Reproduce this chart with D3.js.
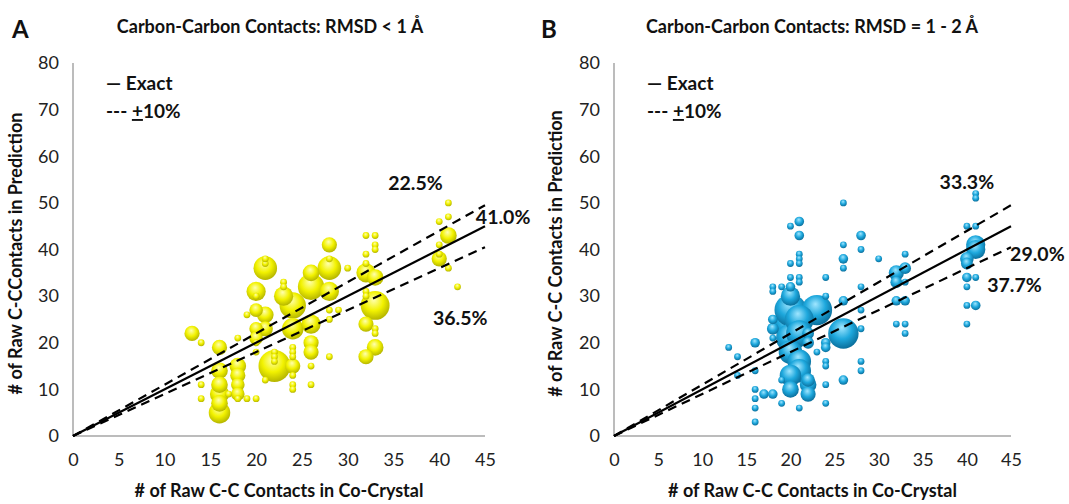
<!DOCTYPE html>
<html><head><meta charset="utf-8">
<script src="https://cdn.jsdelivr.net/npm/d3@7"></script>
<style>
body{margin:0;background:#fff;}
svg text{font-family:Lato,"Open Sans",sans-serif;}
</style></head>
<body><svg id="c" width="1069" height="504"></svg>
<script>
// ---------- data ----------
const xTicks = [0,5,10,15,20,25,30,35,40,45];
const yTicks = [0,10,20,30,40,50,60,70,80];

// Panel A: RMSD < 1 Å  (x = co-crystal contacts, y = prediction contacts, size = bubble size)
const aX = [13,14,16,16,16,16,16,16,14,14,17,18,18,18,18,18,18,19,20,19,20,20,20,20,20,20,20,21,21,21,21,21,22,22,22,22,21,23,23,23,24,24,24,24,24,24,24,24,24,26,26,26,26,26,26,26,28,28,28,28,28,28,28,29,30,32,33,33,33,32,32,32,33,33,32,32,32,33,33,33,32,40,41,41,41,40,40,40,41,42];
const aY = [22,20,19,14,11,9,7,5,11,8,9,21,15,13,11,9,8,8,8,26,31,30,23,21,20,18,27,26,36,37,38,23,15,18,17,16,12,33,32,30,28,23,15,19,18,17,13,11,10,35,32,24,20,18,15,11,41,38,36,31,27,25,17,27,36,43,43,41,40,39,37,35,34,28,31,30,24,23,22,19,17,38,43,50,47,46,41,39,36,32];
const aSize = [5,1,5,6,6,8,6,10,1,1,1,1,6,5,4,4,1,1,1,1,8,1,4,4,1,1,4,6,12,1,1,5,22,1,1,1,1,1,1,8,15,10,5,1,1,1,1,1,1,6,15,8,5,5,1,1,5,1,12,8,1,1,1,1,1,1,1,1,1,1,1,8,6,18,1,1,5,1,1,6,5,5,6,1,1,1,1,1,1,1];

// Panel B: RMSD = 1 - 2 Å
const bX = [13,14,14,16,16,16,16,16,16,17,18,19,19,21,22,22,24,24,26,24,24,28,28,21,20,21,26,26,26,26,28,28,21,21,21,20,20,21,21,18,18,19,20,24,24,26,20,20,20,20,21,21,20,21,21,20,22,20,23,26,28,28,18,18,18,22,22,24,24,23,30,33,32,33,32,33,28,32,33,32,33,33,41,41,40,41,41,41,40,40,40,40,41,41,40,40];
const bY = [19,17,13,20,14,10,8,6,3,9,9,7,12,6,9,12,11,7,12,16,15,16,14,46,45,43,50,41,38,36,43,40,39,38,37,37,34,34,33,32,31,32,32,34,30,29,30,27,24,21,25,22,18,16,14,13,11,10,27,22,23,27,23,21,25,22,20,20,19,18,38,39,35,36,33,33,32,29,29,24,24,22,52,51,45,45,41,40,38,37,34,32,34,28,28,24];
const bSize = [1,1,1,2,1,1,1,1,1,2,2,1,1,1,5,4,1,1,2,1,1,1,1,2,1,2,1,1,2,1,2,1,1,1,1,1,1,1,1,1,1,1,2,1,1,2,8,22,25,18,18,15,12,12,12,10,6,6,20,20,1,1,3,1,2,3,3,2,2,1,1,1,5,3,3,1,1,2,2,1,1,1,1,1,1,1,8,8,4,3,2,1,1,2,1,1];

const panels = [
  {letter:"A", title:"Carbon-Carbon Contacts: RMSD < 1 Å", yTitle:"# of Raw C-CContacts in Prediction",
   xs:aX, ys:aY, ss:aSize, left:73, right:485, letterX:12, titleCx:270, yTitleX:22,
   palette:["#ffffb0","#f2f200","#b5b500"],
   labels:[{t:"22.5%",x:37.4,y:54.3,a:"middle"},{t:"41.0%",x:44.0,y:47,a:"start"},{t:"36.5%",x:42.3,y:25.3,a:"middle"}]},
  {letter:"B", title:"Carbon-Carbon Contacts: RMSD = 1 - 2 Å", yTitle:"# of Raw C-C Contacts in Prediction",
   xs:bX, ys:bY, ss:bSize, left:614, right:1011, letterX:541, titleCx:812, yTitleX:562,
   palette:["#a0e6ff","#1ea8dd","#0b6f9c"],
   labels:[{t:"33.3%",x:40,y:54.5,a:"middle"},{t:"29.0%",x:44.9,y:39,a:"start"},{t:"37.7%",x:42.3,y:32.4,a:"start"}]}
];

const svg = d3.select("#c");
const defs = svg.append("defs");
const plotTop = 63, plotBottom = 436;
const r = d3.scaleSqrt().domain([0,25]).range([0,17]);

panels.forEach((p,pi)=>{
  const x = d3.scaleLinear().domain([0,45]).range([p.left,p.right]);
  const y = d3.scaleLinear().domain([0,80]).range([plotBottom,plotTop]);
  const gid = "grad"+pi;
  const g = defs.append("radialGradient").attr("id",gid).attr("cx","45%").attr("cy","40%").attr("r","60%").attr("fx","45%").attr("fy","30%");
  g.append("stop").attr("offset","0%").attr("stop-color",p.palette[0]);
  g.append("stop").attr("offset","55%").attr("stop-color",p.palette[1]);
  g.append("stop").attr("offset","100%").attr("stop-color",p.palette[2]);

  const G = svg.append("g");
  // axes
  G.append("line").attr("x1",x(0)).attr("x2",x(0)).attr("y1",y(80)).attr("y2",y(0)).attr("stroke","#a6a6a6").attr("stroke-width",1.5);
  G.append("line").attr("x1",x(0)).attr("x2",x(45)).attr("y1",y(0)).attr("y2",y(0)).attr("stroke","#a6a6a6").attr("stroke-width",1.5);
  const xa = d3.axisBottom(x).tickValues(xTicks).tickSize(0).tickPadding(17);
  G.append("g").attr("transform",`translate(0,${plotBottom})`).call(xa).call(s=>{s.select(".domain").remove(); s.selectAll("text").attr("font-size",18).attr("fill","#222").attr("font-family","Lato");});
  const ya = d3.axisLeft(y).tickValues(yTicks).tickSize(0).tickPadding(14);
  G.append("g").attr("transform",`translate(${p.left},0)`).call(ya).call(s=>{s.select(".domain").remove(); s.selectAll("text").attr("font-size",18).attr("fill","#222").attr("font-family","Lato");});

  // bubbles
  const data = p.xs.map((v,i)=>({x:v,y:p.ys[i],s:p.ss[i]})).sort((a,b)=>b.s-a.s);
  G.selectAll("circle.b").data(data).enter().append("circle").attr("class","b")
    .attr("cx",d=>x(d.x)).attr("cy",d=>y(d.y)).attr("r",d=>r(d.s)).attr("fill",`url(#${gid})`);

  // reference lines
  const line = d3.line().x(d=>x(d[0])).y(d=>y(d[1]));
  G.append("path").attr("d",line([[0,0],[45,45]])).attr("stroke","#000").attr("stroke-width",2.2).attr("fill","none");
  [1.1,0.9].forEach(k=>{
    G.append("path").attr("d",line([[0,0],[45,45*k]])).attr("stroke","#000").attr("stroke-width",2.2).attr("stroke-dasharray","9,6").attr("fill","none");
  });

  // legend
  G.append("text").attr("x",p.left+33).attr("y",90).attr("font-size",19).attr("font-weight","bold").attr("fill","#111").text("— Exact");
  const t2 = G.append("text").attr("x",p.left+33).attr("y",118).attr("font-size",19).attr("font-weight","bold").attr("fill","#111");
  t2.append("tspan").text("--- ");
  t2.append("tspan").attr("text-decoration","underline").style("text-decoration","underline").text("+");
  t2.append("tspan").text("10%");

  // percent labels
  p.labels.forEach(l=>{
    G.append("text").attr("x",x(l.x)).attr("y",y(l.y)).attr("dy","0.35em").attr("text-anchor",l.a)
      .attr("font-size",19.5).attr("font-weight","bold").attr("fill","#111").text(l.t);
  });

  // titles
  G.append("text").attr("x",p.letterX).attr("y",38).attr("font-size",24).attr("font-weight","bold").attr("fill","#111").text(p.letter);
  G.append("text").attr("x",p.titleCx).attr("y",33).attr("text-anchor","middle").attr("font-size",18).attr("font-weight","bold").attr("fill","#111").text(p.title);
  G.append("text").attr("x",(p.left+p.right)/2).attr("y",497).attr("text-anchor","middle").attr("font-size",18).attr("font-weight","bold").attr("fill","#111").text("# of Raw C-C Contacts in Co-Crystal");
  G.append("text").attr("transform",`translate(${p.yTitleX},${(plotTop+plotBottom)/2+4}) rotate(-90)`).attr("text-anchor","middle").attr("font-size",18).attr("font-weight","bold").attr("fill","#111").text(p.yTitle);
});
</script></body></html>
